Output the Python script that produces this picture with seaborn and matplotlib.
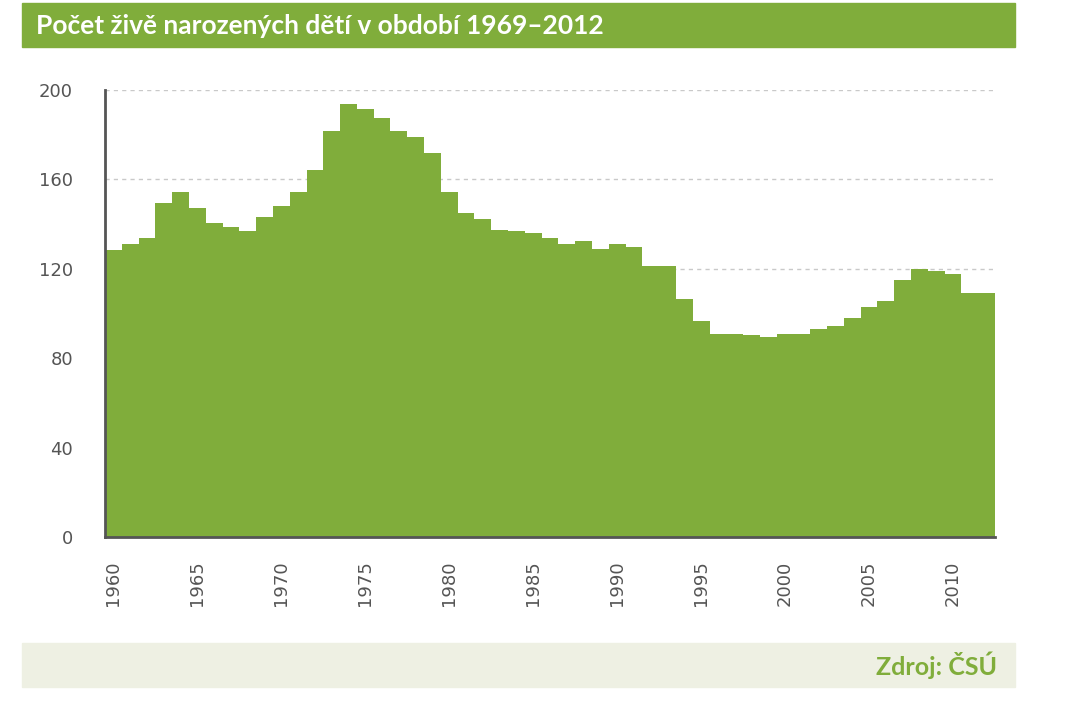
import matplotlib
matplotlib.use("Agg")
import matplotlib.pyplot as plt
from matplotlib.patches import Rectangle
import seaborn as sns

# live births in thousands
years = list(range(1960, 2013))
births = [128.4, 131.1, 133.6, 149.3, 154.2, 147.1, 140.6, 138.6, 137.1, 143.3,
          148.2, 154.2, 164.2, 181.7, 193.7, 191.4, 187.6, 181.7, 179.1, 171.7,
          154.4, 144.8, 142.3, 137.4, 137.1, 136.2, 133.6, 131.1, 132.4, 128.7,
          131.1, 129.9, 121.2, 121.2, 106.5, 96.8, 90.8, 90.7, 90.5, 89.3,
          90.7, 90.7, 93.1, 94.4, 97.8, 102.8, 105.6, 115.0, 119.8, 119.0,
          117.7, 109.3, 109.3]
y_ticks = [0, 40, 80, 120, 160, 200]
label_years = [1960, 1965, 1970, 1975, 1980, 1985, 1990, 1995, 2000, 2005, 2010]
title = "Počet živě narozených dětí v období 1969–2012"
source = "Zdroj: ČSÚ"

green = "#80ad3b"
grey = "#555555"

sns.set_style("white")
plt.rcParams["font.family"] = ["Lato", "DejaVu Sans"]

fig = plt.figure(figsize=(10.8, 7.07), dpi=100)
ax = fig.add_axes([105 / 1080, 1 - 537 / 707, 890 / 1080, 447 / 707])

edges = years + [years[-1] + 1]
sns.histplot(x=years, weights=births, bins=edges, element="step", fill=True,
             color=green, alpha=1, linewidth=0, ax=ax)

ax.set_xlim(edges[0], edges[-1])
ax.set_ylim(0, 200)
ax.set_axisbelow(True)
ax.yaxis.grid(True, color="#c9c9c9", linestyle=(0, (3, 3)), linewidth=1)
ax.xaxis.grid(False)

tick_font = {"family": "DejaVu Sans", "size": 13}

ax.set_yticks(y_ticks)
ax.set_yticklabels([str(v) for v in y_ticks], fontdict=tick_font, color=grey)
ax.tick_params(axis="y", length=0, pad=23)

ax.set_xticks(edges)
ax.set_xticklabels([])
ax.tick_params(axis="x", which="major", length=7, width=1.2, color=grey, direction="out")
ax.set_xticks([y + 0.5 for y in label_years], minor=True)
ax.set_xticklabels([str(y) for y in label_years], minor=True, rotation=90,
                   fontdict=tick_font, color=grey)
ax.tick_params(axis="x", which="minor", length=0, pad=17)

for side in ["top", "right"]:
    ax.spines[side].set_visible(False)
for side in ["left", "bottom"]:
    ax.spines[side].set_color(grey)
    ax.spines[side].set_linewidth(2)
ax.set_xlabel("")
ax.set_ylabel("")

# title banner
fig.add_artist(Rectangle((22 / 1080, 1 - 47 / 707), 993 / 1080, 44 / 707,
                         transform=fig.transFigure, color=green, zorder=0))
fig.text(36 / 1080, 1 - 26 / 707, title, color="white", fontsize=19,
         fontweight="bold", va="center", ha="left")

# source banner
fig.add_artist(Rectangle((22 / 1080, 1 - 687 / 707), 993 / 1080, 44 / 707,
                         transform=fig.transFigure, color="#eef0e3", zorder=0))
fig.text(997 / 1080, 1 - 665 / 707, source, color=green, fontsize=18,
         fontweight="bold", va="center", ha="right")

fig.savefig("out.png", dpi=100)
